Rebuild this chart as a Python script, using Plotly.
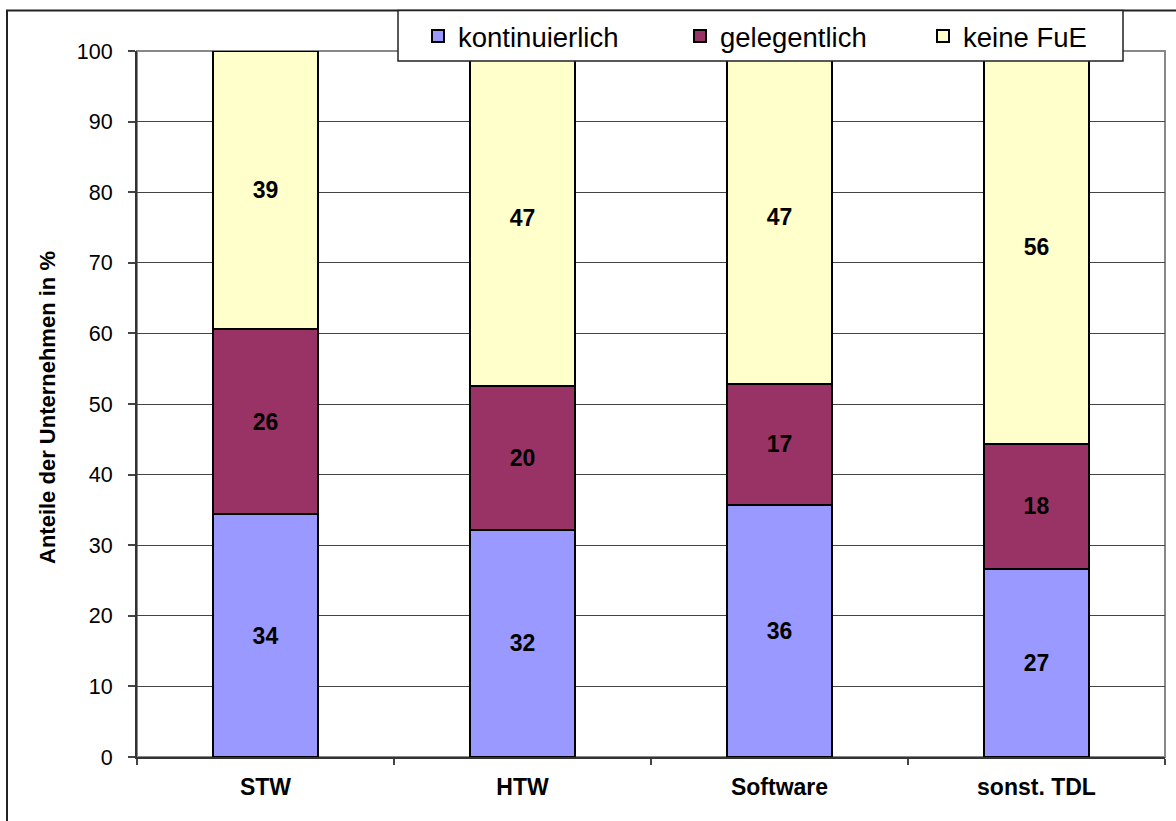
import plotly.graph_objects as go

categories = ["STW", "HTW", "Software", "sonst. TDL"]
kontinuierlich = [34.4, 32.2, 35.7, 26.6]
gelegentlich = [26.2, 20.4, 17.2, 17.8]
keine_fue = [39.4, 47.4, 47.1, 55.6]
series_names = ["kontinuierlich", "gelegentlich", "keine FuE"]
series_colors = ["#9999FF", "#993366", "#FFFFCC"]
y_ticks = list(range(0, 101, 10))

W, H = 1176, 821
L, R, T, B = 137, 1176 - 1165, 51, 821 - 757
pw, ph = W - L - R, H - T - B

def px_x(px):
    return (px - L) / pw

def px_y(py):
    return (H - B - py) / ph

FONT = "Liberation Sans, Arial, sans-serif"

legend_ids = ["legend", "legend2", "legend3"]
legend_text_x = [460, 722, 965]

fig = go.Figure()
for name, vals, col, lid in zip(series_names, [kontinuierlich, gelegentlich, keine_fue], series_colors, legend_ids):
    fig.add_trace(go.Bar(
        x=categories, y=vals, name=name, legend=lid,
        marker=dict(color=col, line=dict(color="#000000", width=2)),
        texttemplate="<b>%{y:.0f}</b>", textposition="inside",
        insidetextanchor="middle", textangle=0,
        textfont=dict(family=FONT, size=23, color="#000000"),
        constraintext="none",
    ))

legend_common = dict(
    orientation="h", yanchor="middle", xanchor="left",
    bgcolor="rgba(0,0,0,0)", borderwidth=0,
    font=dict(family=FONT, size=27.5, color="#000000"),
)
legends = {}
for lid, tx in zip(legend_ids, legend_text_x):
    legends[lid] = dict(legend_common, x=px_x(tx - 42), y=px_y(36))

fig.update_layout(
    width=W, height=H,
    margin=dict(l=L, r=R, t=T, b=B, pad=0),
    barmode="stack", bargap=0.59,
    plot_bgcolor="white", paper_bgcolor="white",
    font=dict(family=FONT, color="#000000"),
    showlegend=True,
    **legends,
    xaxis=dict(
        categoryorder="array", categoryarray=categories,
        range=[-0.5, 3.5], showgrid=False, tickson="boundaries",
        ticks="outside", ticklen=6, tickcolor="#444", tickwidth=1.5,
        showline=True, linecolor="#333", linewidth=2,
        tickfont=dict(family=FONT, size=23, color="#000000"),
        tickprefix="<b>", ticksuffix="</b>",
        ticklabelstandoff=8,
    ),
    yaxis=dict(
        range=[0, 100], tickvals=y_ticks, showgrid=True, gridcolor="#444", gridwidth=1,
        ticks="outside", ticklen=7, tickcolor="#444", tickwidth=1.5,
        showline=True, linecolor="#333", linewidth=2, zeroline=False,
        tickfont=dict(family=FONT, size=21.5, color="#000000"),
        ticklabelstandoff=11,
    ),
    shapes=[
        dict(type="rect", xref="paper", yref="paper", x0=0, x1=1, y0=0, y1=1,
             line=dict(color="#888888", width=2), layer="between"),
        dict(type="rect", xref="paper", yref="paper", x0=px_x(7), x1=px_x(1185),
             y0=px_y(830), y1=px_y(10.5), line=dict(color="#222222", width=2),
             fillcolor="rgba(0,0,0,0)", layer="below"),
        dict(type="rect", xref="paper", yref="paper", x0=px_x(398), x1=px_x(1123),
             y0=px_y(61), y1=px_y(10.5), line=dict(color="#222222", width=1.5),
             fillcolor="white", layer="above"),
    ],
    annotations=[
        dict(text="<b>Anteile der Unternehmen in %</b>", xref="paper", yref="paper",
             x=px_x(47), y=px_y(408), textangle=-90, showarrow=False,
             font=dict(family=FONT, size=22, color="#000000"),
             xanchor="center", yanchor="middle"),
    ],
)

fig.write_html("out.html", config={"displayModeBar": False},
               post_script="document.body.style.margin='0px';")
